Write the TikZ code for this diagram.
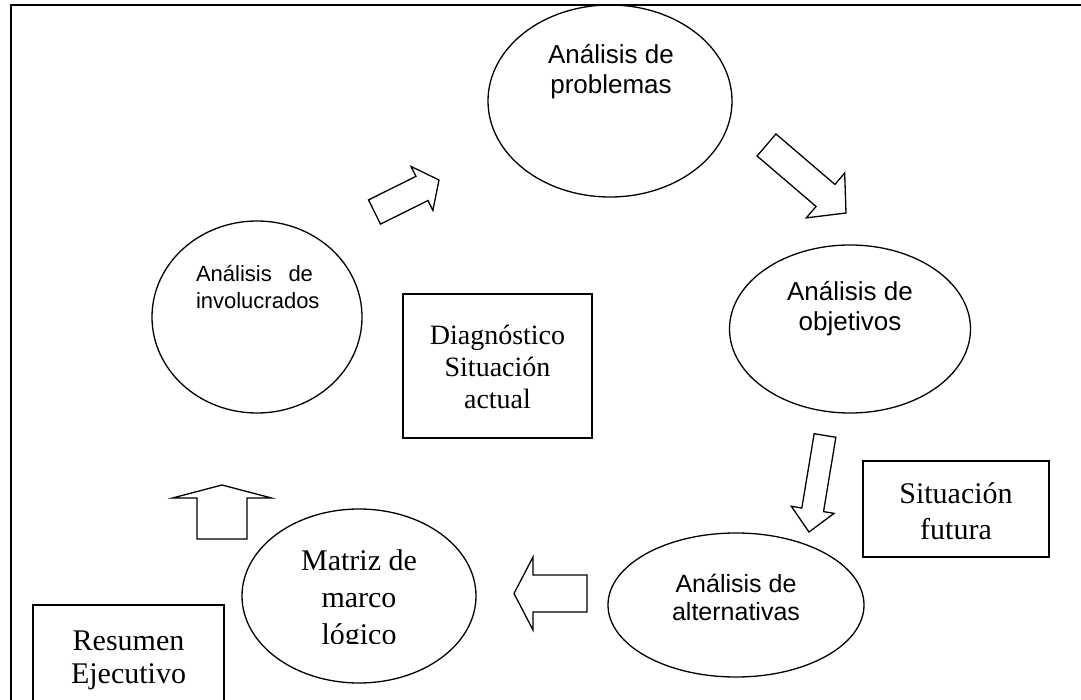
\documentclass[tikz,border=0pt]{standalone}
\usepackage{fontspec}
\setmainfont{Liberation Serif}
\newfontfamily\arialf{Liberation Sans}
\usetikzlibrary{shapes.geometric,calc}
\tikzset{
  ell/.style={draw, ellipse, line width=1.3pt, inner sep=0pt},
  boxn/.style={draw, rectangle, line width=1.3pt, inner sep=0pt},
  blk/.style={draw, line width=1.3pt, line join=miter, fill=white},
  atext/.style={align=center, font=\arialf\fontsize{26}{30}\selectfont},
  ttext/.style={align=center, font=\fontsize{30}{36}\selectfont},
}
% #1 tail, #2 tip, #3 shaft half width, #4 head half width, #5 head length
\newcommand\blockarr[5]{%
  \path (#2) coordinate (bt) ($(#2)!#5!(#1)$) coordinate (bh);
  \draw[blk] ($(#1)!#3!90:(bt)$) -- ($(bh)!#3!90:(bt)$) -- ($(bh)!#4!90:(bt)$)
    -- (bt) -- ($(bh)!#4!-90:(bt)$) -- ($(bh)!#3!-90:(bt)$) -- ($(#1)!#3!-90:(bt)$) -- cycle;}
\begin{document}
\begin{tikzpicture}[x=1pt,y=-1pt]
\useasboundingbox (0,0) rectangle (1081,700);
% frame
\coordinate (fb) at (11,705);
\coordinate (fc) at (11,5);
\coordinate (fr) at (1086,5);
\draw[line width=2pt] (fb) -- (fc) -- (fr);
% ellipses
\node[ell, minimum width=244pt, minimum height=192pt] (prob) at (610,101) {};
\node[ell, minimum width=210pt, minimum height=192pt] (invol) at (257,317) {};
\node[ell, minimum width=241pt, minimum height=168pt] (obj) at (850,329) {};
\node[ell, minimum width=256pt, minimum height=144pt] (alt) at (736,605) {};
\node[ell, minimum width=234pt, minimum height=174pt] (mat) at (359,596) {};
% boxes
\node[boxn, minimum width=189pt, minimum height=144pt] (diag) at (497.5,366) {};
\node[boxn, minimum width=186pt, minimum height=96pt] (fut) at (956,509) {};
\node[boxn, minimum width=191pt, minimum height=110pt] (res) at (128.5,660) {};
% texts
\node[atext] (tprob) at (611,72) {Análisis de\\problemas};
\node[atext, font=\arialf\fontsize{22}{27}\selectfont, text width=117pt, align=left] (tinvol) at (254.5,287) {Análisis\hfill de\\involucrados};
\node[atext] (tobj) at (850,309) {Análisis de\\objetivos};
\node[atext, font=\arialf\fontsize{25}{28}\selectfont] (talt) at (736,597) {Análisis de\\alternativas};
\node[ttext, font=\fontsize{28}{32}\selectfont] (tdiag) at (497.5,367) {Diagnóstico\\Situación\\actual};
\node[ttext] (tfut) at (956,511) {Situación\\futura};
\node[ttext, font=\fontsize{30}{33}\selectfont] (tres) at (128.5,660) {Resumen\\Ejecutivo};
\begin{scope}
  \clip (250,520) rectangle (470,643);
  \node[ttext, font=\fontsize{30}{37}\selectfont] (tmat) at (359,600) {Matriz de\\marco\\lógico};
\end{scope}
% block arrows
\coordinate (a1t) at (374.5,212); \coordinate (a1p) at (439,180);
\coordinate (a2t) at (766.5,145); \coordinate (a2p) at (846,213);
\coordinate (a3t) at (825,435.5); \coordinate (a3p) at (809,532);
\coordinate (a4t) at (587,593.5); \coordinate (a4p) at (514,593.5);
\coordinate (a5t) at (222,539);   \coordinate (a5p) at (222,485);
\blockarr{a1t}{a1p}{13.5pt}{24.5pt}{19pt}
\blockarr{a2t}{a2p}{14.5pt}{29.5pt}{27pt}
\blockarr{a3t}{a3p}{11pt}{21.7pt}{22.5pt}
\blockarr{a4t}{a4p}{18.5pt}{36.5pt}{19pt}
\blockarr{a5t}{a5p}{25pt}{49.5pt}{13pt}
\end{tikzpicture}
\end{document}
